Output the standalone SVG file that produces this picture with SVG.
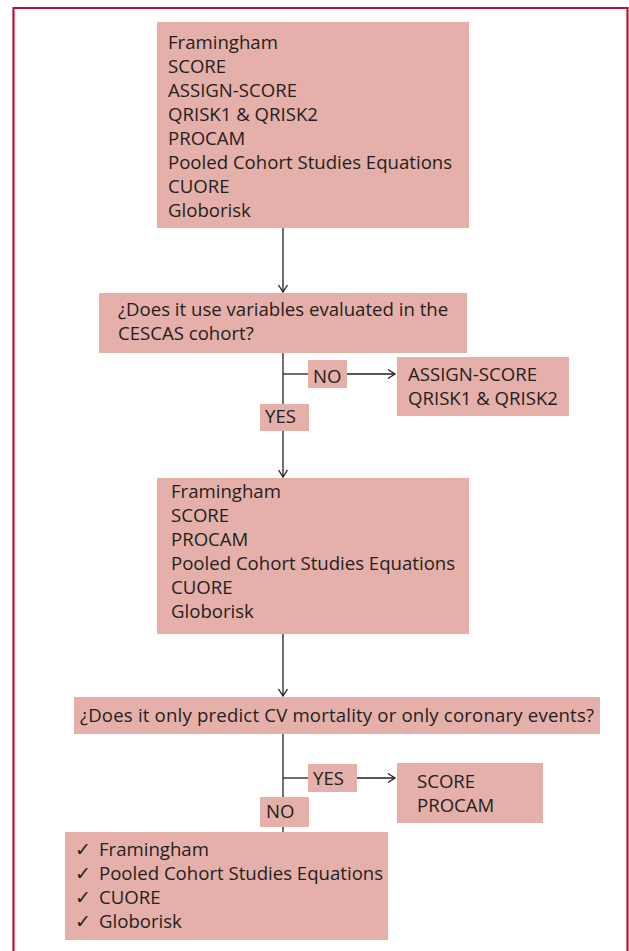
<svg xmlns="http://www.w3.org/2000/svg" width="629" height="951" viewBox="0 0 629 951">
<defs>
<style>
.box{fill:#e5b0aa;}
.t{font-family:"Open Sans","Noto Sans","Liberation Sans",sans-serif;font-size:18.6px;fill:#231f20;}
.ln{stroke:#231f20;stroke-width:1.3;fill:none;}
.frame{stroke:#c0103a;stroke-width:2.2;fill:none;}
</style>
<marker id="arr" markerWidth="12" markerHeight="12" refX="10" refY="6" orient="auto" markerUnits="userSpaceOnUse">
<path d="M3,1.5 L10,6 L3,10.5" fill="none" stroke="#231f20" stroke-width="1.3"/>
</marker>
</defs>
<rect width="629" height="951" fill="#ffffff"/>
<polyline class="frame" points="13.5,951 13.5,8 627.5,8 627.5,951"/>
<g id="connectors">
<line class="ln" x1="283" y1="228" x2="283" y2="292" marker-end="url(#arr)"/>
<line class="ln" x1="283" y1="353" x2="283" y2="477" marker-end="url(#arr)"/>
<line class="ln" x1="283" y1="374" x2="308" y2="374"/>
<line class="ln" x1="347" y1="374" x2="395" y2="374" marker-end="url(#arr)"/>
<line class="ln" x1="283" y1="634" x2="283" y2="696" marker-end="url(#arr)"/>
<line class="ln" x1="283" y1="734" x2="283" y2="832"/>
<line class="ln" x1="283" y1="778" x2="308" y2="778"/>
<line class="ln" x1="357" y1="778" x2="395" y2="778" marker-end="url(#arr)"/>
</g>
<g id="models">
<rect class="box" x="157" y="22" width="312" height="206"/>
<text class="t" x="168" y="49">Framingham</text>
<text class="t" x="168" y="73">SCORE</text>
<text class="t" x="168" y="97">ASSIGN-SCORE</text>
<text class="t" x="168" y="121">QRISK1 &amp; QRISK2</text>
<text class="t" x="168" y="145">PROCAM</text>
<text class="t" x="168" y="169">Pooled Cohort Studies Equations</text>
<text class="t" x="168" y="193">CUORE</text>
<text class="t" x="168" y="217">Globorisk</text>
</g>
<g id="q1">
<rect class="box" x="99" y="293" width="368" height="60"/>
<text class="t" x="118" y="316">¿Does it use variables evaluated in the</text>
<text class="t" x="118" y="340">CESCAS cohort?</text>
</g>
<g id="no1">
<rect class="box" x="308" y="360" width="39" height="28"/>
<text class="t" x="313" y="383">NO</text>
</g>
<g id="excluded1">
<rect class="box" x="397" y="357" width="172" height="59"/>
<text class="t" x="408" y="381">ASSIGN-SCORE</text>
<text class="t" x="408" y="405">QRISK1 &amp; QRISK2</text>
</g>
<g id="yes1">
<rect class="box" x="260" y="404" width="49" height="27"/>
<text class="t" x="265" y="423">YES</text>
</g>
<g id="models2">
<rect class="box" x="157" y="478" width="312" height="156"/>
<text class="t" x="171" y="498">Framingham</text>
<text class="t" x="171" y="522">SCORE</text>
<text class="t" x="171" y="546">PROCAM</text>
<text class="t" x="171" y="570">Pooled Cohort Studies Equations</text>
<text class="t" x="171" y="594">CUORE</text>
<text class="t" x="171" y="618">Globorisk</text>
</g>
<g id="q2">
<rect class="box" x="74" y="697" width="526" height="37"/>
<text class="t" x="80" y="722" textLength="514">¿Does it only predict CV mortality or only coronary events?</text>
</g>
<g id="yes2">
<rect class="box" x="308" y="764" width="49" height="28"/>
<text class="t" x="313" y="785">YES</text>
</g>
<g id="excluded2">
<rect class="box" x="397" y="763" width="146" height="60"/>
<text class="t" x="417" y="788">SCORE</text>
<text class="t" x="417" y="812">PROCAM</text>
</g>
<g id="no2">
<rect class="box" x="260" y="797" width="49" height="30"/>
<text class="t" x="266" y="818">NO</text>
</g>
<g id="final">
<rect class="box" x="65" y="832" width="323" height="108"/>
<text class="t" x="75" y="856">✓</text>
<text class="t" x="99" y="856">Framingham</text>
<text class="t" x="75" y="880">✓</text>
<text class="t" x="99" y="880">Pooled Cohort Studies Equations</text>
<text class="t" x="75" y="904">✓</text>
<text class="t" x="99" y="904">CUORE</text>
<text class="t" x="75" y="928">✓</text>
<text class="t" x="99" y="928">Globorisk</text>
</g>
</svg>
